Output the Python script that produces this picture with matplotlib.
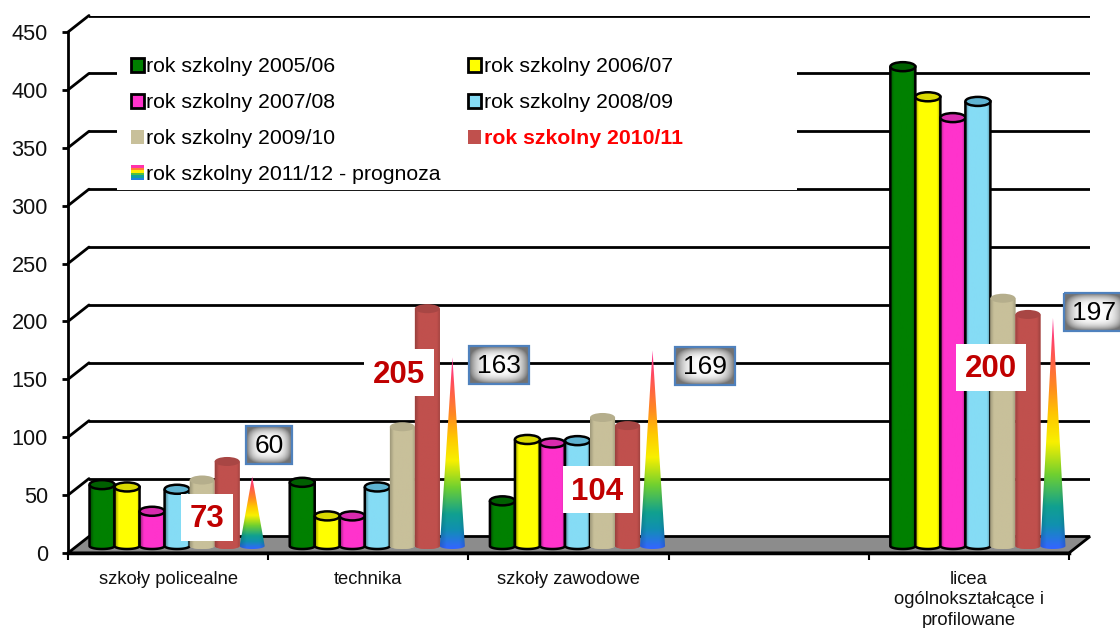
import numpy as np
import matplotlib
matplotlib.use("Agg")
import matplotlib.pyplot as plt
from matplotlib.patches import Polygon, Rectangle, Ellipse, PathPatch
from matplotlib.path import Path
from matplotlib.legend_handler import HandlerBase
from matplotlib.colors import to_rgb

plt.rcParams['font.family'] = ['Liberation Sans', 'DejaVu Sans']

categories = ['szkoły policealne', 'technika', 'szkoły zawodowe', '', 'licea\nogólnokształcące i\nprofilowane']
series_names = ['rok szkolny 2005/06', 'rok szkolny 2006/07', 'rok szkolny 2007/08', 'rok szkolny 2008/09',
                'rok szkolny 2009/10', 'rok szkolny 2010/11', 'rok szkolny 2011/12 - prognoza']
category_positions = [0, 1, 2, 4]
v_2005 = [53, 55, 39, 414]
v_2006 = [51, 26, 92, 388]
v_2007 = [30, 26, 89, 370]
v_2008 = [49, 51, 91, 384]
v_2009 = [57, 103, 111, 214]
v_2010 = [73, 205, 104, 200]
v_2011 = [60, 163, 169, 197]
yticks = [0, 50, 100, 150, 200, 250, 300, 350, 400, 450]

cyl_values = [v_2005, v_2006, v_2007, v_2008, v_2009, v_2010]
body_colors = ['#008000', '#ffff00', '#ff33cc', '#85dcf5', '#c8c09a', '#c0504d']
top_colors = ['#006000', '#d8d800', '#d82bae', '#5fb4d2', '#b5ae8c', '#a84644']
has_edge = [True, True, True, True, False, False]
rainbow = ['#ff3399', '#ff4a60', '#ff8a20', '#ffc800', '#f8f000', '#70d030', '#10a090', '#1090b0', '#3366ff']
rainbow_pos = [0, 0.12, 0.3, 0.42, 0.54, 0.68, 0.82, 0.9, 1]

W, H = 1120, 628
fig = plt.figure(figsize=(W / 100, H / 100), dpi=100, facecolor='white')


def rect(l, t, r, b):
    return [l / W, 1 - b / H, (r - l) / W, (b - t) / H]


PX = 521 / 450
DX, DY = 21, 16.5

# back wall with gridlines
ax_back = fig.add_axes(rect(68 + DX, 32 - DY, 1069 + DX, 553 - DY), zorder=1)
ax_back.set_xlim(0, 5)
ax_back.set_ylim(0, 450)
ax_back.set_yticks(yticks)
ax_back.set_xticks([])
ax_back.tick_params(left=False, labelleft=False)
ax_back.grid(axis='y', color='black', lw=2)
for s in ax_back.spines.values():
    s.set_visible(False)
ax_back.patch.set_alpha(0)

# pixel layer: floor, wall diagonals, legend
ax_px = fig.add_axes([0, 0, 1, 1], zorder=1.5)
ax_px.set_xlim(0, W)
ax_px.set_ylim(H, 0)
ax_px.axis('off')
ax_px.add_patch(Polygon([(68, 553), (68 + DX, 553 - DY), (1069 + DX, 553 - DY), (1069, 553)],
                        closed=True, fc='#8c8c8c', ec='black', lw=2))
for v in yticks[1:]:
    y = 553 - v * PX
    ax_px.plot([68, 68 + DX], [y, y - DY], color='black', lw=2, solid_capstyle='round')
ax_px.add_patch(Rectangle((117, 48), 680, 142, fc='white', ec='none', zorder=2))


class HandlerRainbow(HandlerBase):
    def create_artists(self, legend, orig_handle, xdescent, ydescent, width, height, fontsize, trans):
        out = []
        cols = ['#ff33aa', '#ff8030', '#ffee00', '#50c040', '#10a0a0', '#2080e0']
        h = height * 1.1
        for i, c in enumerate(cols):
            out.append(Rectangle((-xdescent, -ydescent - 0.05 * height + h * (5 - i) / 6), width, h / 6,
                                 fc=c, ec='none', transform=trans))
        return out


handles = []
for c, e in zip(body_colors, has_edge):
    handles.append(Rectangle((0, 0), 1, 1, fc=c, ec='black' if e else 'none', lw=2))
rainbow_handle = Rectangle((0, 0), 1, 1)
handles.append(rainbow_handle)
order = [0, 2, 4, 6, 1, 3, 5]
leg = ax_px.legend([handles[i] for i in order], [series_names[i] for i in order],
                   ncol=2, loc='upper left', bbox_to_anchor=(124.5 / W, 1 - 51 / H),
                   bbox_transform=fig.transFigure, frameon=False, fontsize=15.3,
                   borderpad=0.3, borderaxespad=0, handlelength=0.6, handleheight=0.6,
                   handletextpad=0.12, columnspacing=1.3, labelspacing=0.8,
                   handler_map={rainbow_handle: HandlerRainbow()})
for t, i in zip(leg.get_texts(), order):
    if i == 5:
        t.set_color('#ff0000')
        t.set_fontweight('bold')
leg.set_zorder(5)

# front frame: ticks and labels
ax = fig.add_axes(rect(68, 32, 1069, 553), zorder=2)
ax.patch.set_alpha(0)
ax.set_xlim(0, 5)
ax.set_ylim(0, 450)
ax.set_yticks(yticks)
ax.set_xticks(range(6))
ax.set_xticklabels([])
ax.set_xticks(np.arange(5) + 0.5, categories, minor=True, fontsize=13.2, color='#111111', linespacing=1.25)
ax.tick_params(axis='x', which='minor', length=0, pad=13)
ax.tick_params(axis='x', which='major', length=5, width=1.5)
ax.tick_params(axis='y', length=4.5, width=2, pad=10, labelsize=15.7, labelcolor='#111111')
ax.spines['top'].set_visible(False)
ax.spines['right'].set_visible(False)
ax.spines['left'].set_linewidth(2)
ax.spines['bottom'].set_linewidth(2.5)

# bars, sharing the value scale, on a plane between wall and front
BASE_PX = 546
ax_b = fig.add_axes(rect(68 + 9, BASE_PX - 521, 1069 + 9, BASE_PX + 10 * PX), zorder=3)
ax_b.patch.set_alpha(0)
ax_b.axis('off')
BW = 0.125
ELL_TOP = 3.9  # half ellipse heights in value units
ELL_BOT = 2.6


def half_ellipse(x0, x1, y, n=24):
    t = np.linspace(np.pi, 2 * np.pi, n)
    return np.c_[(x0 + x1) / 2 + (x1 - x0) / 2 * np.cos(t), y + ELL_BOT * np.sin(t)]


def cylinder(x, v, j, z):
    x0, x1 = x - BW / 2, x + BW / 2
    verts = np.vstack([[[x0, v]], half_ellipse(x0, x1, 0), [[x1, v]], [[x0, v]]])
    body = Path(verts)
    u = np.linspace(0, 1, 40)
    dark = 0.62 if has_edge[j] else 0.8
    f = dark + (1 - dark) * np.minimum(1, (1 - np.abs(2 * u - 1)) * 3.5)
    img = np.array(to_rgb(body_colors[j]))[None, None, :] * f[None, :, None]
    ax_b.add_patch(PathPatch(body, fc=body_colors[j], ec='none', zorder=z - 0.1))
    im = ax_b.imshow(img, extent=(x0, x1, -ELL_BOT, v), aspect='auto', zorder=z, interpolation='bilinear')
    edge = PathPatch(body, fc='none', ec='black' if has_edge[j] else 'none', lw=1.8, zorder=z + 0.1)
    ax_b.add_patch(edge)
    im.set_clip_path(PathPatch(body, transform=ax_b.transData))
    ax_b.add_patch(Ellipse((x, v), BW, 2 * ELL_TOP, fc=top_colors[j],
                           ec='black' if has_edge[j] else 'none', lw=1.8, zorder=z + 0.2))


def cone(x, v, z):
    x0, x1 = x - BW / 2, x + BW / 2
    verts = np.vstack([[[x, v]], [[x0, 0]], half_ellipse(x0, x1, 0), [[x, v]]])
    p = Path(verts)
    cols = np.array([to_rgb(c) for c in rainbow])
    n = 120
    vert = np.stack([np.interp(np.linspace(0, 1, n), rainbow_pos, cols[:, k]) for k in range(3)], axis=1)
    u = np.linspace(0, 1, 30)
    f = 0.85 + 0.15 * np.minimum(1, (1 - np.abs(2 * u - 1)) * 2)
    img = vert[:, None, :] * f[None, :, None]
    im = ax_b.imshow(img, extent=(x0, x1, -ELL_BOT, v), aspect='auto', zorder=z, interpolation='bilinear')
    im.set_clip_path(PathPatch(p, transform=ax_b.transData))


for i, cat in enumerate(category_positions):
    for j, vals in enumerate(cyl_values):
        cylinder(cat + 0.5 + (j - 3) * BW, vals[i], j, 10 + j + i * 10)
    cone(cat + 0.5 + 3 * BW, v_2011[i], 16 + i * 10)
ax_b.set_xlim(0, 5)
ax_b.set_ylim(-10, 450)

# value labels, anchored on the marks
ax_l = fig.add_axes([0, 0, 1, 1], zorder=4)
ax_l.set_xlim(0, W)
ax_l.set_ylim(H, 0)
ax_l.axis('off')


def to_px(x, y):
    px, py = ax_b.transData.transform((x, y))
    return px, H - py


gray_offsets = [(17, -32), (47, 8), (52, 16), (41, -6)]
red_offsets = [(-20, 56), (-28, 64), (-30, 64), (-37, 53)]
gx, gy = np.meshgrid(np.linspace(-1, 1, 60), np.linspace(-1, 1, 40))
shade = 1 - 0.55 * np.clip(np.abs(gx) ** 3.5 + np.abs(gy) ** 3.5, 0, 1)
gimg = np.dstack([shade, shade, shade])
for i, cat in enumerate(category_positions):
    px, py = to_px(cat + 0.5 + 3 * BW, v_2011[i])
    cx, cy = px + gray_offsets[i][0], py + gray_offsets[i][1]
    w, h = 46 if i == 0 else 60, 38
    ax_l.imshow(gimg, extent=(cx - w / 2, cx + w / 2, cy + h / 2, cy - h / 2), aspect='auto', zorder=5,
                interpolation='bilinear')
    ax_l.add_patch(Rectangle((cx - w / 2, cy - h / 2), w, h, fc='none', ec='#4f81bd', lw=1.6, zorder=6))
    ax_l.text(cx, cy + 1, str(v_2011[i]), ha='center', va='center', fontsize=19, color='black', zorder=7)

    qx, qy = to_px(cat + 0.5 + 2 * BW, v_2010[i])
    cx, cy = qx + red_offsets[i][0], qy + red_offsets[i][1]
    w, h = 52 if i == 0 else 70, 47
    ax_l.add_patch(Rectangle((cx - w / 2, cy - h / 2), w, h, fc='white', ec='none', zorder=5))
    ax_l.text(cx, cy + 2, str(v_2010[i]), ha='center', va='center', fontsize=22.5, fontweight='bold',
              color='#c00000', zorder=7)
ax_l.set_xlim(0, W)
ax_l.set_ylim(H, 0)

fig.savefig('out.png', dpi=100)
